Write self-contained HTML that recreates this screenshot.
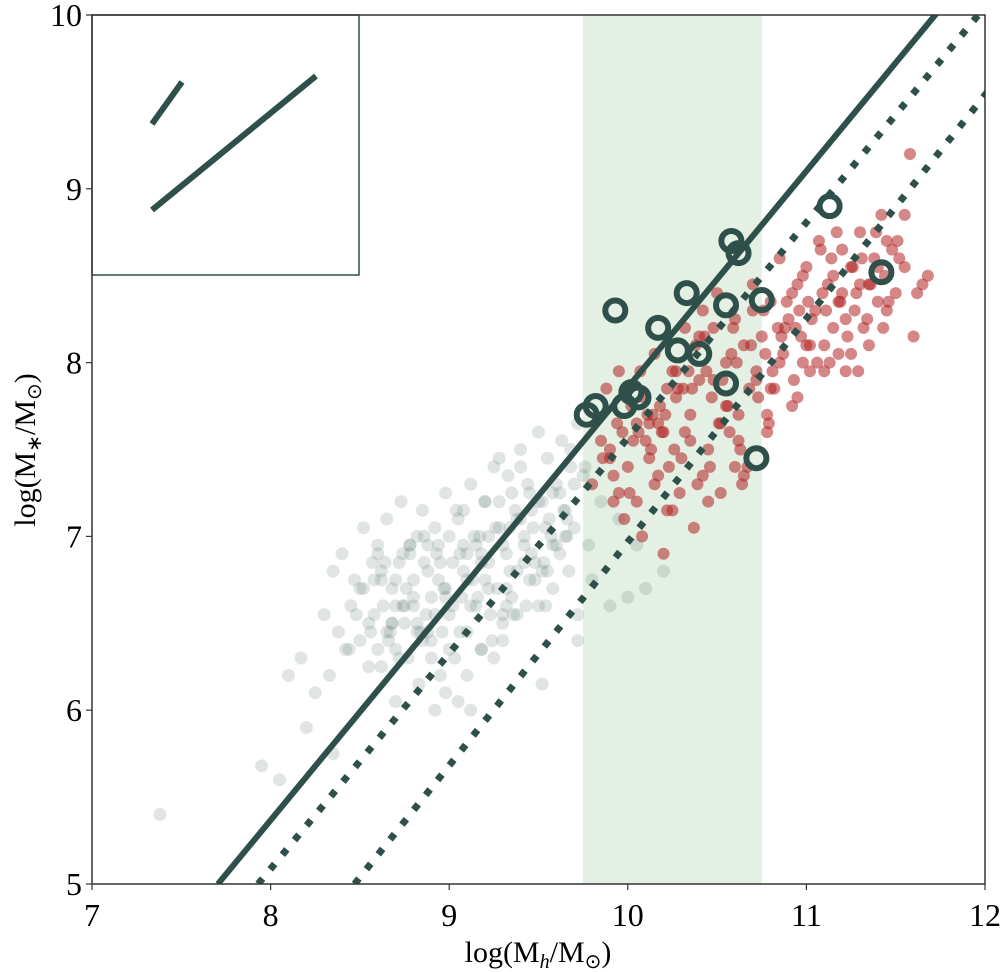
<!DOCTYPE html>
<html><head><meta charset="utf-8"><style>
body{margin:0;background:#fff}
text{font-family:"Liberation Serif","Times New Roman",serif}
</style></head><body>
<svg id="chart" width="1000" height="972" viewBox="0 0 1000 972" xmlns="http://www.w3.org/2000/svg" style="position:absolute;left:0;top:0">
<g id="bg"></g><g id="marks"></g><g id="axes"></g>
</svg>
<script>
const xTicks=[7,8,9,10,11,12];
const yTicks=[5,6,7,8,9,10];
const band=[9.75,10.75];
const grayX=[7.38,7.95,8.05,8.17,8.25,8.30,8.33,8.35,8.38,8.40,8.42,8.45,8.47,8.50,8.52,8.55,8.57,8.60,8.62,8.63,8.65,8.67,8.68,8.70,8.72,8.73,8.75,8.77,8.78,8.80,8.82,8.83,8.85,8.87,8.88,8.90,8.92,8.93,8.95,8.97,8.98,9.00,9.02,9.03,9.05,9.07,9.08,9.10,9.12,9.13,9.15,9.17,9.18,9.20,9.22,9.23,9.25,9.27,9.28,9.30,9.32,9.33,9.35,9.37,9.38,9.40,9.42,9.43,9.45,9.47,9.48,9.50,9.52,9.53,9.55,9.57,9.58,9.60,9.62,9.63,9.65,9.67,9.68,9.70,9.72,9.75,9.78,9.80,9.85,9.90,9.95,10.00,10.05,10.10,10.20,8.60,8.70,8.80,8.90,9.00,9.10,9.20,9.30,9.40,9.50,8.55,8.65,8.75,8.85,8.95,9.05,9.15,9.25,9.35,9.45,9.55,9.65,8.48,8.58,8.68,8.78,8.88,8.98,9.08,9.18,9.28,9.38,8.44,8.92,9.12,9.32,9.52,9.72,8.20,8.10,8.35,
8.52,8.58,8.62,8.66,8.70,8.74,8.78,8.82,8.86,8.90,8.94,8.98,9.02,9.06,9.10,9.14,9.18,9.22,9.26,9.30,9.34,9.38,9.42,9.46,9.50,9.54,9.58,9.62,9.66,9.70,8.56,8.64,8.72,8.80,8.88,8.96,9.04,9.12,9.20,9.28,9.36,9.44,9.52,9.60,9.68,8.60,8.68,8.76,8.84,8.92,9.00,9.08,9.16,9.24,9.32,9.40,9.48,9.56,9.64,9.72,8.50,8.62,8.74,8.86,8.98,9.10,9.22,9.34,9.46,9.58,8.70,8.82,8.94,9.06,9.18,9.30,9.42,9.54,9.66,9.76];
const grayY=[5.40,5.68,5.60,6.30,6.10,6.55,6.20,6.80,6.45,6.90,6.35,6.60,6.75,6.40,7.05,6.50,6.85,6.95,6.25,6.60,7.10,6.45,6.70,6.05,6.85,7.20,6.50,6.30,6.95,6.65,7.00,6.15,7.15,6.55,6.80,6.40,7.05,6.90,6.20,6.70,7.25,6.55,6.85,6.30,7.10,6.65,6.95,6.45,7.30,6.75,6.60,7.00,6.35,7.20,6.85,6.55,7.40,6.70,7.05,6.50,6.90,7.35,6.65,7.15,6.80,7.50,6.95,6.60,7.25,7.05,6.75,7.60,7.20,6.85,7.45,7.00,6.70,7.30,6.90,7.55,7.15,6.80,7.40,7.05,6.55,7.35,6.95,6.75,7.20,6.60,7.10,6.65,6.95,6.70,6.80,6.90,6.35,6.75,6.30,7.00,6.20,7.20,6.40,7.10,6.60,6.25,6.45,6.60,6.40,6.85,6.05,6.95,6.30,7.25,6.75,6.80,7.00,6.55,6.75,6.50,6.95,6.45,6.10,7.15,6.35,7.45,6.55,6.35,6.00,6.00,6.60,6.15,6.40,5.90,6.20,5.75,
6.70,6.55,6.80,6.40,6.75,6.60,6.90,6.50,6.85,6.65,6.95,6.70,6.60,6.90,6.75,7.00,6.85,6.70,7.05,6.95,6.80,7.10,7.00,6.90,7.20,7.05,6.95,7.25,7.10,7.30,6.45,6.85,6.30,6.60,6.95,6.45,7.15,6.60,6.75,7.20,6.55,7.30,6.80,6.95,7.50,6.35,6.50,6.70,6.45,6.55,6.35,6.80,6.65,6.40,6.70,7.40,6.85,7.10,7.15,7.65,6.70,6.75,6.90,7.00,6.65,6.90,7.00,7.05,7.15,7.25,6.60,6.45,6.75,6.45,6.90,6.55,6.85,6.60,7.00,7.40];
const redX=[9.80,9.85,9.88,9.90,9.92,9.95,9.97,10.00,10.02,10.05,10.07,10.10,10.12,10.15,10.17,10.20,10.22,10.25,10.27,10.30,10.32,10.35,10.37,10.40,10.42,10.45,10.47,10.50,10.52,10.55,10.57,10.60,10.62,10.65,10.67,10.70,10.72,10.75,10.78,10.80,10.82,10.85,10.87,10.90,10.92,10.95,10.97,11.00,11.02,11.05,11.07,11.10,11.12,11.15,11.17,11.20,11.22,11.25,11.27,11.30,11.32,11.35,11.38,11.40,11.45,11.50,11.55,11.58,11.60,11.65,9.90,9.98,10.05,10.12,10.18,10.25,10.32,10.38,10.45,10.52,10.58,10.65,10.72,10.80,10.88,10.95,11.02,11.10,11.18,11.25,11.35,11.45,11.55,10.08,10.15,10.22,10.28,10.35,10.42,10.48,10.55,10.62,10.70,10.85,10.92,11.00,11.08,11.15,11.22,11.30,11.40,11.52,9.95,10.20,10.40,10.60,10.78,10.98,11.20,11.42,
9.86,9.94,10.03,10.11,10.19,10.27,10.36,10.44,10.53,10.61,10.69,10.77,10.86,10.94,11.03,11.11,11.19,11.28,11.36,11.44,9.92,10.01,10.09,10.17,10.26,10.34,10.43,10.51,10.59,10.68,10.76,10.84,10.93,11.01,11.09,11.18,11.26,11.34,11.43,11.51,10.06,10.14,10.23,10.31,10.39,10.48,10.56,10.64,10.73,10.81,10.89,10.98,11.06,11.14,11.23,11.31,11.39,11.48,11.62,11.68,10.13,10.21,10.29,10.46,10.63,10.79,10.96,11.13,11.29,11.46];
const redY=[7.30,7.55,7.85,7.45,7.20,7.95,7.60,7.40,7.75,7.20,7.95,7.55,7.65,8.05,7.35,7.60,7.85,7.15,7.95,7.45,8.20,7.70,7.05,7.90,8.30,7.50,7.80,8.40,7.25,8.00,7.60,8.25,7.70,8.10,7.40,8.45,7.90,8.15,7.60,8.35,7.85,8.60,8.05,8.25,7.75,8.45,8.15,8.55,7.95,8.30,8.70,8.10,8.45,8.20,8.75,8.40,7.95,8.55,8.30,8.75,8.20,8.45,8.60,8.35,8.70,8.40,8.55,9.20,8.15,8.45,7.50,7.10,7.65,7.45,7.75,7.95,7.60,8.10,7.20,7.65,8.05,7.35,7.95,7.85,8.20,7.80,8.10,7.95,8.35,8.05,8.10,8.30,8.85,7.00,7.30,7.15,7.85,7.55,7.35,8.20,7.75,7.55,8.30,8.00,8.40,8.10,8.65,8.50,8.25,8.45,8.55,8.60,7.25,6.90,8.15,7.40,7.70,8.00,8.65,8.85,
7.45,7.65,7.55,7.70,7.60,7.80,7.85,7.95,7.90,8.00,8.10,8.05,8.15,8.20,8.25,8.30,8.35,8.40,8.45,8.50,7.35,7.25,7.80,7.65,7.50,7.95,8.15,7.65,8.20,7.85,8.30,8.20,7.90,8.35,8.40,8.05,8.55,8.25,8.20,8.70,7.60,7.70,7.40,7.85,7.30,7.90,7.75,7.30,7.80,7.95,8.35,8.50,8.00,8.60,8.15,8.60,8.75,8.65,8.40,8.50,7.50,7.70,7.25,7.40,7.50,7.65,8.30,8.00,7.95,8.35];
const ringX=[9.77,9.82,9.93,9.98,10.02,10.06,10.17,10.28,10.33,10.40,10.55,10.55,10.58,10.62,10.72,10.75,11.13,11.42];
const ringY=[7.70,7.75,8.30,7.75,7.83,7.80,8.20,8.07,8.40,8.05,8.33,7.88,8.70,8.63,7.45,8.36,8.90,8.52];
const lineSlope=[1.245,1.24,1.286];
const lineIntercept=[7.705,7.93,8.47];
const lineStyle=["solid","dot","dot"];

const X0=92,X1=985,Y0=884,Y1=15;
const xs=v=>X0+(v-7)/5*(X1-X0);
const ys=v=>Y0-(v-5)/5*(Y0-Y1);
const NS="http://www.w3.org/2000/svg";
function mk(tag,attrs,parent){const e=document.createElementNS(NS,tag);for(const k in attrs)e.setAttribute(k,attrs[k]);parent.appendChild(e);return e;}
const bg=document.getElementById('bg'),marks=document.getElementById('marks'),axes=document.getElementById('axes');

let b=mk('rect',{x:xs(band[0]),y:Y1,width:xs(band[1])-xs(band[0]),height:Y0-Y1,fill:'#e3f0e3'},bg);



for(let i=0;i<grayX.length;i++){
 const c=mk('circle',{cx:xs(grayX[i]),cy:ys(grayY[i]),r:6.5,fill:'#2f4f4a','fill-opacity':0.15},marks);
 
 
}
for(let i=0;i<redX.length;i++){
 const c=mk('circle',{cx:xs(redX[i]),cy:ys(redY[i]),r:6,fill:'#b22222','fill-opacity':0.55},marks);
 
 
}
const clip=mk('clipPath',{id:'cl'},marks);mk('rect',{x:X0,y:Y1,width:X1-X0,height:Y0-Y1},clip);
for(let i=0;i<lineSlope.length;i++){
 const xa=lineIntercept[i],xb=xa+5/lineSlope[i]+1;
 const attrs={x1:xs(xa),y1:ys(5),x2:xs(xb),y2:ys(5+lineSlope[i]*(xb-xa)),stroke:'#2f4f4a','clip-path':'url(#cl)'};
 if(lineStyle[i]==='solid'){attrs['stroke-width']=6;}else{attrs['stroke-width']=7;attrs['stroke-dasharray']='7 12';}
 const l=mk('line',attrs,marks);
 
 
}
for(let i=0;i<ringX.length;i++){
 const c=mk('circle',{cx:xs(ringX[i]),cy:ys(ringY[i]),r:10,fill:'none',stroke:'#2f4f4a','stroke-width':6},marks);
 
 
}
const ib=mk('rect',{x:X0,y:Y1,width:267,height:260,fill:'#fff',stroke:'#2f4f4a','stroke-width':1.5},axes);


let l1=mk('line',{x1:152,y1:124,x2:182,y2:82,stroke:'#2f4f4a','stroke-width':6},axes);


let l2=mk('line',{x1:152,y1:210,x2:316,y2:76,stroke:'#2f4f4a','stroke-width':6},axes);



const fr=mk('rect',{x:X0,y:Y1,width:X1-X0,height:Y0-Y1,fill:'none',stroke:'#333','stroke-width':1.5},axes);


xTicks.forEach(t=>{
 mk('line',{x1:xs(t),y1:Y0,x2:xs(t),y2:Y0+6,stroke:'#333','stroke-width':1.2},axes);
 const tx=mk('text',{x:xs(t),y:926,'font-size':32,'text-anchor':'middle'},axes);tx.textContent=t;
 
 
});
yTicks.forEach(t=>{
 mk('line',{x1:X0-6,y1:ys(t),x2:X0,y2:ys(t),stroke:'#333','stroke-width':1.2},axes);
 const tx=mk('text',{x:82,y:ys(t)+11,'font-size':32,'text-anchor':'end'},axes);tx.textContent=t;
 
 
});
</script>
<svg style="position:absolute;left:0;top:0" width="1000" height="972" pointer-events="none">
<text x="538" y="962" font-size="30" text-anchor="middle">log(M<tspan font-style="italic" font-size="20" dy="6">h</tspan><tspan dy="-6">/M</tspan><tspan font-size="20" dy="6">⊙</tspan><tspan dy="-6">)</tspan></text>
<text transform="translate(35,450) rotate(-90)" font-size="30" text-anchor="middle">log(M<tspan font-size="20" dy="6">∗</tspan><tspan dy="-6">/M</tspan><tspan font-size="20" dy="6">⊙</tspan><tspan dy="-6">)</tspan></text>
</svg>
</body></html>
